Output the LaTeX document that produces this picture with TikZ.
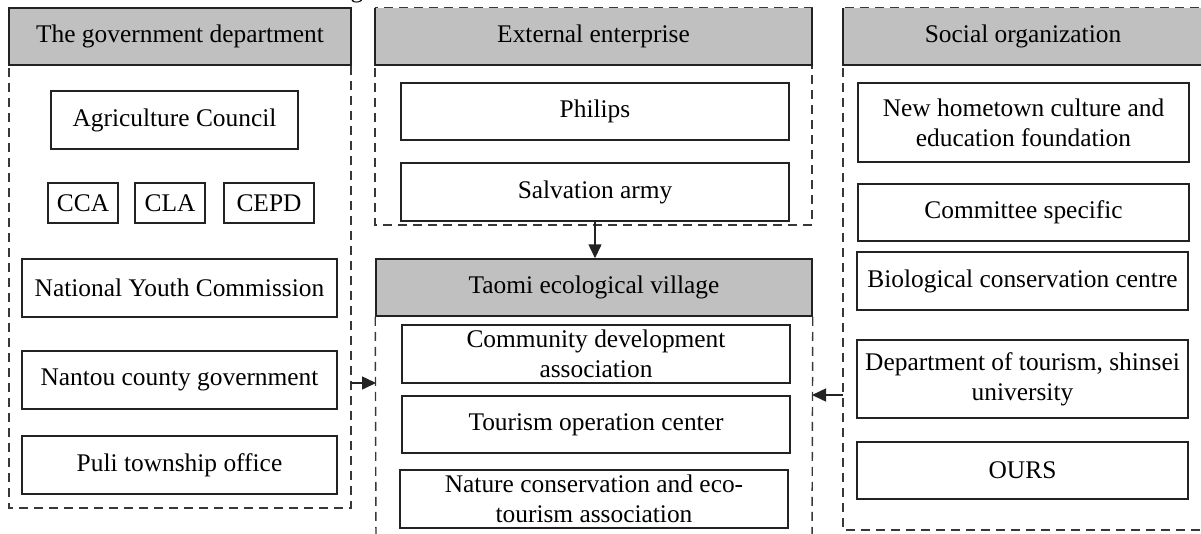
\documentclass[tikz,border=0pt]{standalone}
\usepackage{fontspec}
\setmainfont{Liberation Serif}
\usetikzlibrary{arrows.meta}
\definecolor{hdrgray}{HTML}{C0C0C0}
\definecolor{ink}{HTML}{222222}
\tikzset{
  every node/.style={font=\fontsize{25.4}{30}\selectfont, inner sep=0pt, text=black},
  box/.style={draw=ink, line width=1.5pt, fill=white, align=center},
  hdr/.style={fill=hdrgray, draw=ink, line width=1.5pt, align=center},
  hdrfill/.style={fill=hdrgray, draw=none, align=center},
  grp/.style={draw=ink!90, line width=1.4pt, dash pattern=on 9pt off 6pt},
  solidedge/.style={draw=ink, line width=1.5pt},
  arr/.style={draw=ink, line width=1.5pt, -{Triangle[length=14pt,width=13pt]}}
}
\begin{document}
\begin{tikzpicture}[x=1pt,y=-1pt]
\useasboundingbox (0,0) rectangle (1201,533);
\clip (0,0) rectangle (1201,533);
\fill[white] (0,0) rectangle (1201,533);

% clipped remnant of a title above the picture
\node[anchor=base] (ttl) at (357,-3) {g};

% ---------- left column: government ----------
\draw[grp] (9,8) rectangle (351,508);
\node[hdr, minimum width=342pt, minimum height=57pt] (govh) at (180,36.5) {The government department};
\node[box, minimum width=247pt, minimum height=58pt] (agri) at (174.5,120) {Agriculture Council};
\node[box, minimum width=70pt, minimum height=40pt] (cca) at (83,203) {CCA};
\node[box, minimum width=70pt, minimum height=40pt] (cla) at (170,203) {CLA};
\node[box, minimum width=90pt, minimum height=40pt] (cepd) at (269,203) {CEPD};
\node[box, minimum width=315pt, minimum height=58pt] (nyc) at (179.5,288) {National Youth Commission};
\node[box, minimum width=315pt, minimum height=58pt] (nantou) at (179.5,380) {Nantou county government};
\node[box, minimum width=315pt, minimum height=58pt] (puli) at (179.5,465) {Puli township office};

% ---------- middle column: external enterprise ----------
\draw[grp] (375,8) rectangle (812,225);
\node[hdrfill, minimum width=437pt, minimum height=57pt] (exth) at (593.5,36.5) {External enterprise};
\draw[solidedge] (exth.north west) -- (exth.south west) -- (exth.south east) -- (exth.north east);
\node[box, minimum width=388pt, minimum height=57pt] (philips) at (595,111.5) {Philips};
\node[box, minimum width=388pt, minimum height=58pt] (salv) at (595,192) {Salvation army};

% ---------- middle column: Taomi ----------
\node[hdr, minimum width=436pt, minimum height=57pt] (taomi) at (594,287.5) {Taomi ecological village};
\coordinate (tbl) at (376,545);
\coordinate (tbr) at (812,545);
\draw[grp] (taomi.south west) -- (tbl);
\draw[grp] (taomi.south east) -- (tbr);
\node[box, minimum width=388pt, minimum height=58pt] (cda) at (596,354) {Community development\\association};
\node[box, minimum width=388pt, minimum height=57pt] (toc) at (596,424.5) {Tourism operation center};
\node[box, minimum width=388pt, minimum height=58pt] (nce) at (594,499) {Nature conservation and eco-\\tourism association};

% ---------- right column: social organization ----------
\draw[grp] (843,8) rectangle (1204,530);
\node[hdrfill, minimum width=360pt, minimum height=57pt] (soch) at (1023,36.5) {Social organization};
\draw[solidedge] (soch.north west) -- (soch.south west) -- (soch.south east);
\node[box, minimum width=331pt, minimum height=79pt] (nhc) at (1023.5,122.5) {New hometown culture and\\education foundation};
\node[box, minimum width=331pt, minimum height=57pt] (cs) at (1023.5,212.5) {Committee specific};
\node[box, minimum width=331pt, minimum height=58pt] (bio) at (1022.5,281) {Biological conservation centre};
\node[box, minimum width=331pt, minimum height=78pt] (dept) at (1022.5,379) {Department of tourism, shinsei\\university};
\node[box, minimum width=331pt, minimum height=57pt] (ours) at (1022.5,470.5) {OURS};

% ---------- connectors ----------
\coordinate (govout) at (351,383);
\coordinate (taoin) at (376,383);
\coordinate (socout) at (843,395);
\coordinate (taoinr) at (812,395);
\draw[arr] (salv.south) -- (taomi.north -| salv.south);
\draw[arr] (govout) -- (taoin);
\draw[arr] (socout) -- (taoinr);
\end{tikzpicture}
\end{document}
